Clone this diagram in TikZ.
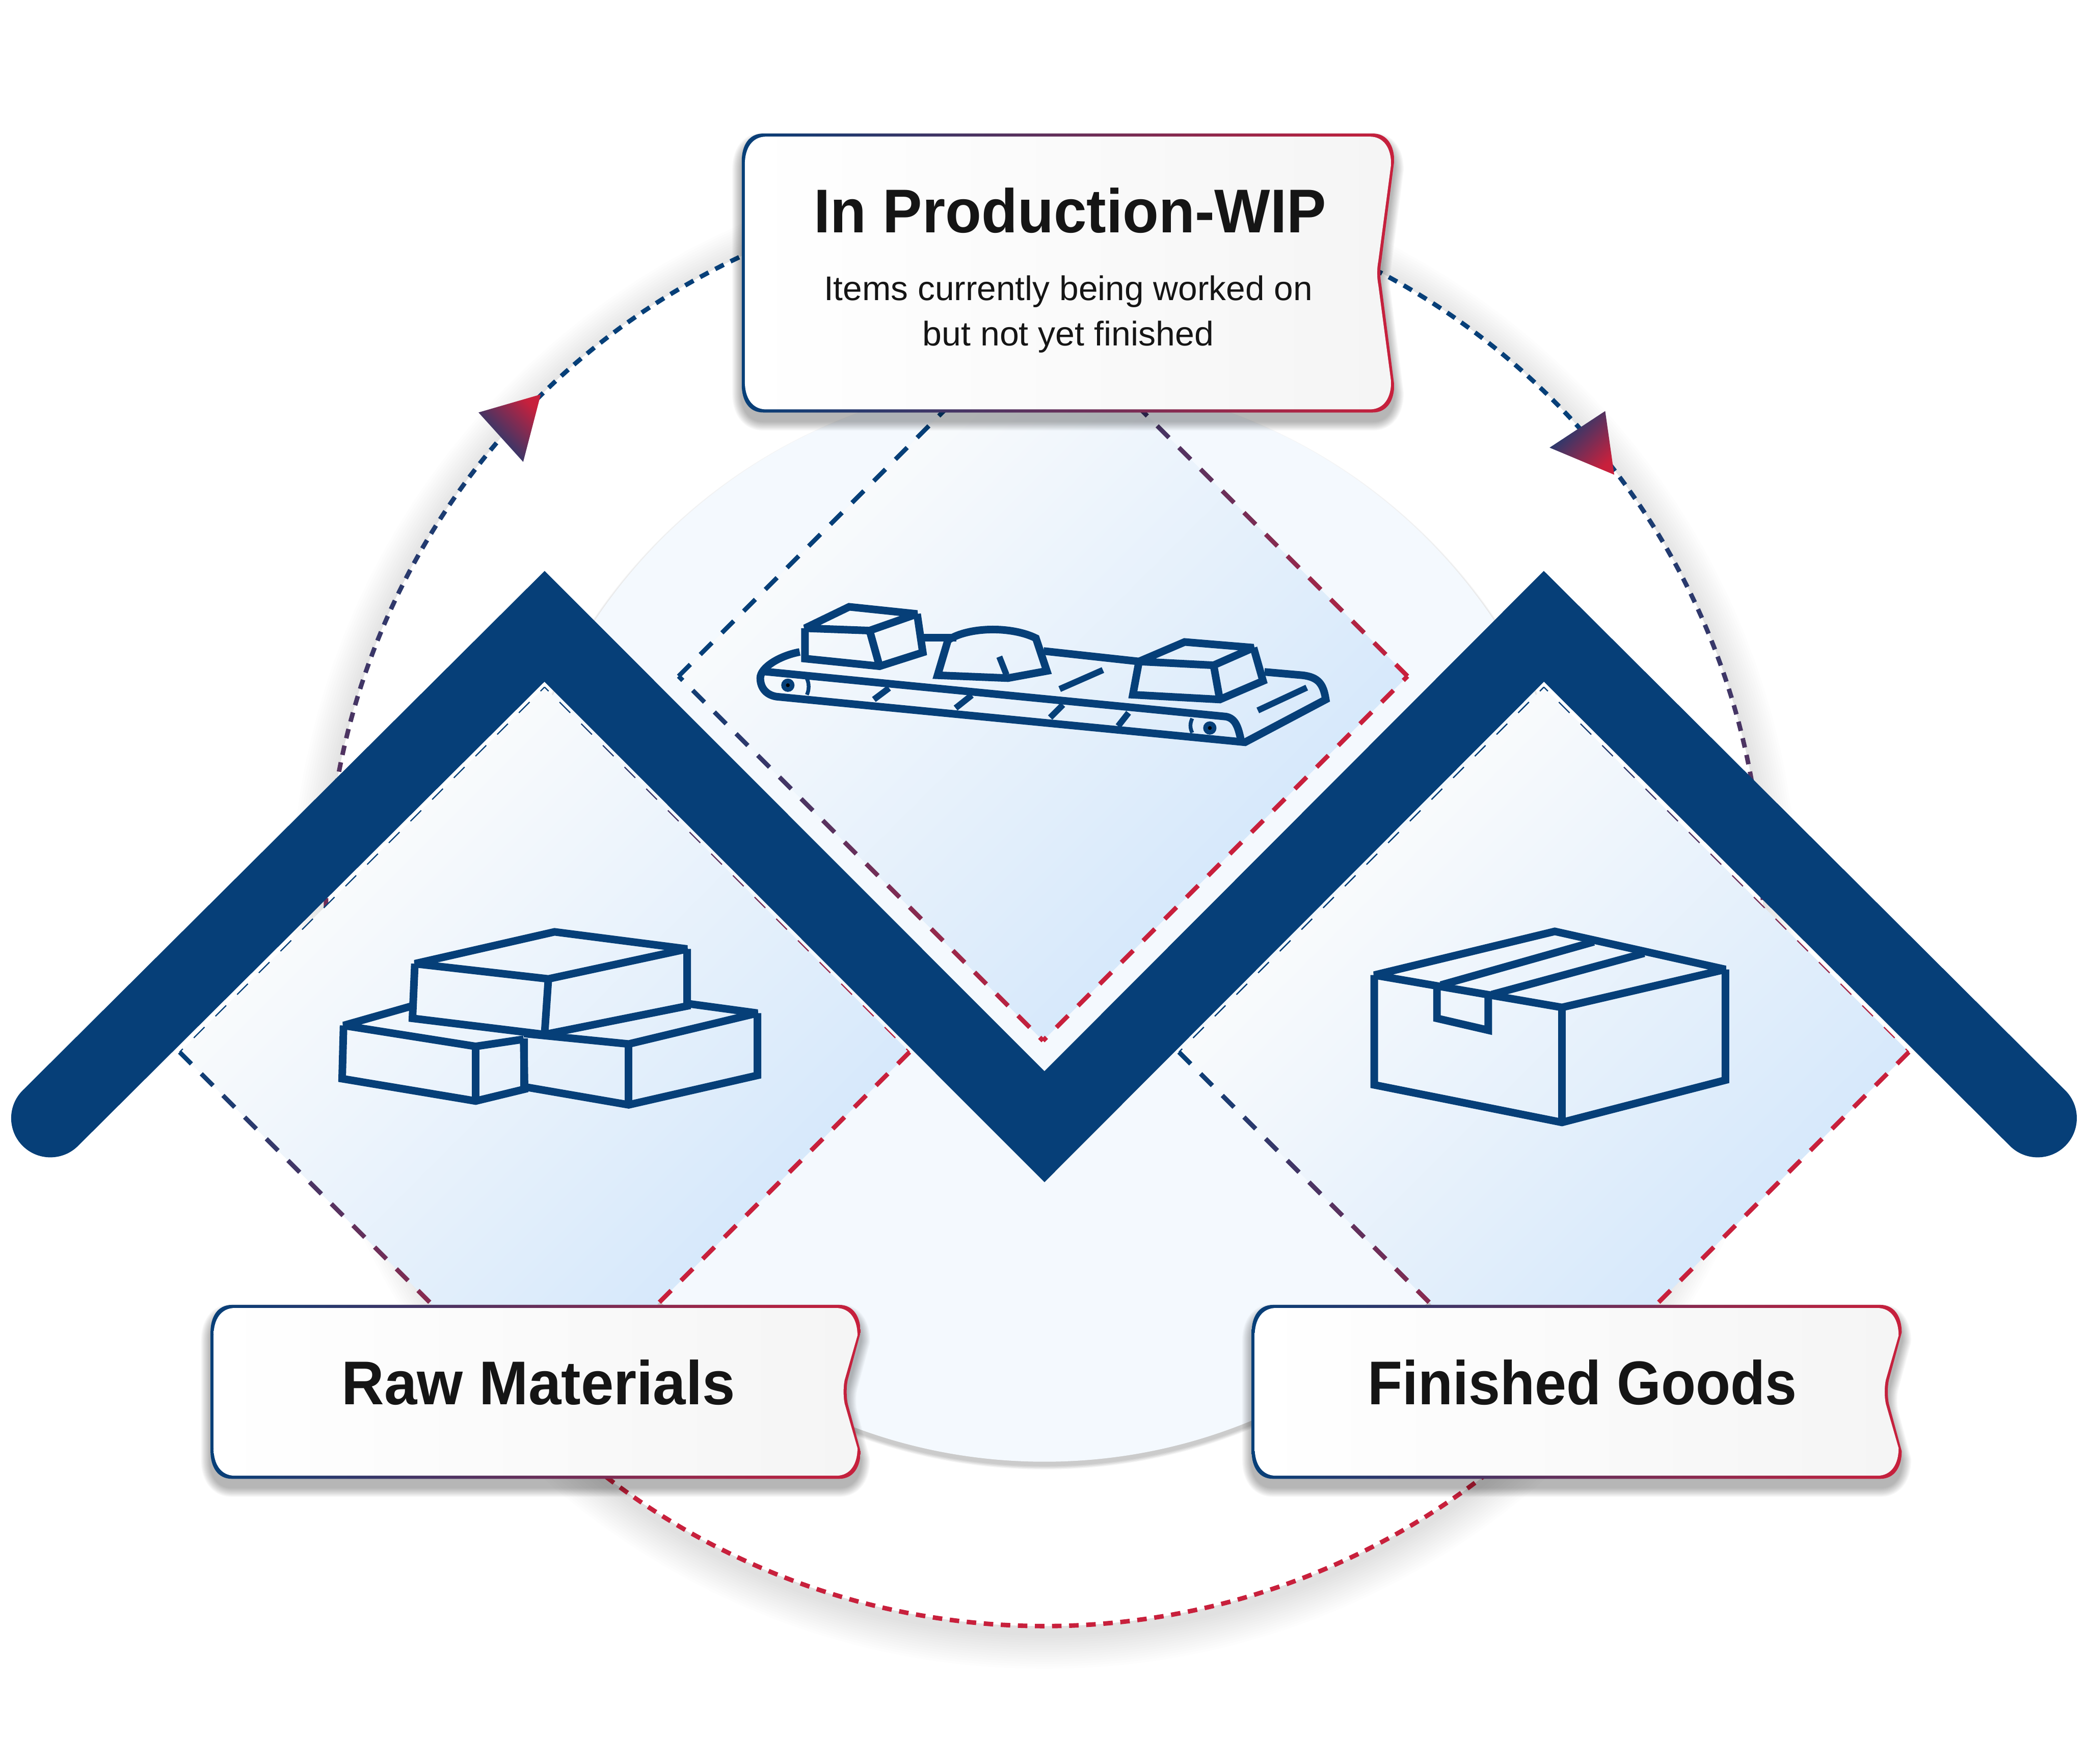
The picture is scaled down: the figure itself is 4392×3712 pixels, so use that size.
\documentclass[tikz,border=0pt]{standalone}
\usepackage{fontspec}
\usepackage{graphicx}
\setmainfont{Liberation Sans}
\definecolor{brandblue}{RGB}{6,63,120}
\definecolor{brandred}{RGB}{200,32,60}
\definecolor{lightdisc}{RGB}{244,249,254}
\definecolor{diaA}{RGB}{255,254,252}
\definecolor{diaB}{RGB}{208,229,251}
\definecolor{cardA}{RGB}{255,255,255}
\definecolor{cardB}{RGB}{245,245,245}
\definecolor{inktext}{RGB}{21,21,21}
\tikzset{
  iconline/.style={draw=brandblue,line width=16pt,line join=miter,miter limit=2.5,fill=none},
  iconthin/.style={draw=brandblue,line width=8pt,fill=none},
  iconbar/.style={draw=brandblue,line width=13pt,fill=none},
  mainzig/.style={draw=brandblue,line width=165pt,line join=miter,miter limit=10,line cap=round},
  diamondfill/.style={left color=diaA,right color=diaB,shading angle=45},
  bordergrad/.style={left color=brandblue,right color=brandred},
  cardfill/.style={left color=cardA,right color=cardB},
  arrowgrad/.style={left color=brandblue,middle color=brandred!35!brandblue,right color=brandred},
  titletext/.style={anchor=base,inner sep=0pt,text=inktext,font=\fontsize{130}{130}\selectfont\bfseries},
  subtext/.style={anchor=base,inner sep=0pt,text=inktext,font=\fontsize{72}{72}\selectfont},
}
% dashed line whose colour runs along x+y
\newcommand{\gradline}[9]{% x1 y1 x2 y2 dash period width s0 s1  (offset in \goff)
  \pgfmathsetmacro\glen{veclen(#3-#1,#4-#2)}
  \pgfmathtruncatemacro\gnum{floor((\glen+\goff)/#6)}
  \foreach \gi in {0,...,\gnum}{
    \pgfmathsetmacro\gsa{max(0,\gi*#6-\goff)}
    \pgfmathsetmacro\gsb{min(\glen,\gi*#6-\goff+#5)}
    \ifdim\gsb pt>\gsa pt
      \pgfmathsetmacro\gax{#1+(#3-#1)/\glen*\gsa}
      \pgfmathsetmacro\gay{#2+(#4-#2)/\glen*\gsa}
      \pgfmathsetmacro\gbx{#1+(#3-#1)/\glen*\gsb}
      \pgfmathsetmacro\gby{#2+(#4-#2)/\glen*\gsb}
      \pgfmathsetmacro\gt{max(0,min(100,(\gax+\gay-#8)/(#9-#8)*100))}
      \draw[line width=#7pt,color=brandred!\gt!brandblue] (\gax,\gay) -- (\gbx,\gby);
    \fi
  }
}
\def\goff{0}
% card outline
\newcommand{\cardshape}[5]{%
  ({#1+45},#2) -- ({#3-45},#2)
  .. controls ({#3-15},#2) and (#3,{#2+25}) .. (#3,{#2+58})
  -- ({#3-#5+3},{(#2+#4)/2-25})
  .. controls ({#3-#5},{(#2+#4)/2-10}) and ({#3-#5},{(#2+#4)/2+10}) .. ({#3-#5+3},{(#2+#4)/2+25})
  -- (#3,{#4-58})
  .. controls (#3,{#4-25}) and ({#3-15},#4) .. ({#3-45},#4)
  -- ({#1+45},#4)
  .. controls ({#1+15},#4) and (#1,{#4-25}) .. (#1,{#4-58})
  -- (#1,{#2+58})
  .. controls (#1,{#2+25}) and ({#1+15},#2) .. ({#1+45},#2) -- cycle}
\newcommand{\drawcard}[4]{%
  \foreach \k in {1,...,10}{
    \begin{scope}[yshift=-18pt,opacity=0.03,transparency group]
      \path[draw=black,fill=black,line width=4*\k pt,line join=round] \cardshape{#1}{#2}{#3}{#4}{30};
    \end{scope}
  }
  \shade[bordergrad] \cardshape{#1}{#2}{#3}{#4}{30};
  \shade[cardfill] \cardshape{#1+6.5}{#2+6.5}{#3-6.5}{#4-6.5}{30};
}
\begin{document}
\begin{tikzpicture}[x=1pt,y=-1pt]
\useasboundingbox (0,0) rectangle (4392,3712);
\fill[white] (0,0) rectangle (4392,3712);

% outer disc with soft shadow
\foreach \k in {1,...,15}{
  \fill[black,opacity=0.0085] (2198,1925) circle ({1512+5*\k});
}
\fill[white] (2198,1910) circle (1512);
% dotted ring
\foreach \k in {0,...,263}{
  \pgfmathsetmacro\aa{\k*1.363636}
  \pgfmathsetmacro\ab{\aa+0.76}
  \pgfmathsetmacro\ya{1910+1512*sin(\aa)}
  \pgfmathsetmacro\gt{max(0,min(100,(\ya-885)/1850*100))}
  \draw[line width=9.5pt,color=brandred!\gt!brandblue] ({2198+1512*cos(\aa)},\ya) -- ({2198+1512*cos(\ab)},{1910+1512*sin(\ab)});
}

% light disc
\foreach \k in {1,...,6}{
  \fill[black,opacity=0.035] (2198,1946) circle ({1138+1.4*\k});
}
\fill[lightdisc] (2198,1938) circle (1138);

% diamonds
\shade[diamondfill] (2195,656) -- (2962,1423) -- (2195,2190) -- (1428,1423) -- cycle;
\shade[diamondfill] (1146,1446) -- (1914,2214) -- (1146,2982) -- (378,2214) -- cycle;
\shade[diamondfill] (3249,1446) -- (4017,2214) -- (3249,2982) -- (2481,2214) -- cycle;

% centre diamond dashes
\def\goff{25}
\gradline{2195}{2190}{1428}{1423}{35}{64.5}{9.5}{2851}{4385}
\gradline{2195}{2190}{2962}{1423}{35}{64.5}{9.5}{2851}{4385}
\def\goff{0}
\gradline{1428}{1423}{2195}{656}{35}{64.5}{9.5}{2851}{4385}
\gradline{2962}{1423}{2195}{656}{35}{64.5}{9.5}{2851}{4385}
% left diamond dashes
\def\goff{20}
\gradline{1146}{1446}{378}{2214}{32}{64.5}{2.5}{2592}{4128}
\gradline{1146}{1446}{1914}{2214}{32}{64.5}{2.5}{2592}{4128}
\def\goff{0}
\gradline{378}{2214}{1146}{2982}{35}{64.5}{9.5}{2592}{4128}
\gradline{1914}{2214}{1146}{2982}{35}{64.5}{9.5}{2592}{4128}
% right diamond dashes
\def\goff{20}
\gradline{3249}{1446}{2481}{2214}{32}{64.5}{2.5}{4695}{6231}
\gradline{3249}{1446}{4017}{2214}{32}{64.5}{2.5}{4695}{6231}
\def\goff{0}
\gradline{2481}{2214}{3249}{2982}{35}{64.5}{9.5}{4695}{6231}
\gradline{4017}{2214}{3249}{2982}{35}{64.5}{9.5}{4695}{6231}

% raw materials boxes
\path[iconline] (873,2028) -- (1167,1961) -- (1446,1997) -- (1154,2060) -- cycle;
\path[iconline] (873,2028) -- (868,2143) -- (1146,2177) -- (1446,2117) -- (1446,1997);
\path[iconline] (1154,2060) -- (1146,2177);
\path[iconline] (867,2117) -- (723,2158) -- (1001,2202) -- (1102,2187);
\path[iconline] (723,2158) -- (720,2270) -- (1001,2317) -- (1104,2292) -- (1102,2187);
\path[iconline] (1001,2202) -- (1001,2317);
\path[iconline] (1103,2175) -- (1323,2197) -- (1594,2132) -- (1447,2112);
\path[iconline] (1594,2132) -- (1594,2263) -- (1323,2325) -- (1103,2287) -- (1103,2185);
\path[iconline] (1323,2197) -- (1323,2325);

% finished goods box
\path[iconline] (2892,2052) -- (3272,1960) -- (3631,2040) -- (3287,2120) -- cycle;
\path[iconline] (2892,2052) -- (2892,2283) -- (3287,2362) -- (3631,2273) -- (3631,2040);
\path[iconline] (3287,2120) -- (3287,2362);
\path[iconline] (3032,2073) -- (3354,1982);
\path[iconline] (3139,2093) -- (3460,2006);
\path[iconline] (3024,2080) -- (3024,2143) -- (3132,2168) -- (3132,2097);

% conveyor
\path[iconline] (1683,1372) .. controls (1640,1380) and (1600,1405) .. (1600,1427) .. controls (1600,1445) and (1610,1462) .. (1634,1466) -- (2620,1562) -- (2790,1472) .. controls (2785,1440) and (2775,1425) .. (2741,1421) -- (2661,1414);
\path[iconline] (1607,1413) -- (2580,1508) .. controls (2600,1512) and (2606,1530) .. (2612,1560);
\path[iconline] (1942,1342) -- (2013,1342);
\path[iconline] (2196,1370) -- (2397,1392);
\path[iconline] (1694,1322) -- (1787,1277) -- (1930,1292) -- (1830,1327) -- cycle;
\path[iconline] (1694,1322) -- (1694,1386) -- (1851,1402) -- (1942,1373) -- (1930,1292);
\path[iconline] (1830,1327) -- (1851,1402);
\path[iconline] (1973,1421) -- (1995,1347) .. controls (2040,1318) and (2130,1318) .. (2180,1343) -- (2203,1412) -- (2121,1427) -- cycle;
\path[iconbar] (2103,1382) -- (2118,1420);
\path[iconline] (2397,1392) -- (2493,1351) -- (2638,1363) -- (2554,1400) -- cycle;
\path[iconline] (2397,1392) -- (2384,1462) -- (2567,1472) -- (2658,1433) -- (2638,1363);
\path[iconline] (2554,1400) -- (2567,1472);
\path[iconbar] (1871,1448) -- (1839,1472);
\path[iconbar] (2045,1463) -- (2011,1490);
\path[iconbar] (2237,1483) -- (2210,1510);
\path[iconbar] (2375,1500) -- (2353,1528);
\path[iconbar] (2321,1410) -- (2230,1450);
\path[iconbar] (2750,1447) -- (2647,1495);
\fill[brandblue] (1658,1442) circle (14);
\fill[black] (1658,1442) circle (4);
\fill[brandblue] (2546,1532) circle (14);
\fill[black] (2546,1532) circle (4);
\path[iconthin] (1698,1428) .. controls (1703,1438) and (1703,1452) .. (1698,1462);
\path[iconthin] (2509,1512) .. controls (2504,1522) and (2504,1532) .. (2509,1542);

% zigzag
\coordinate (zA) at (106,2353);
\coordinate (zB) at (1146,1318);
\coordinate (zC) at (2198,2371);
\coordinate (zD) at (3249,1318);
\coordinate (zE) at (4288,2353);
\draw[mainzig] (zA) -- (zB) -- (zC) -- (zD) -- (zE);

% cards
\drawcard{1561}{281}{2934}{868}
\drawcard{443}{2746}{1811}{3112}
\drawcard{2634}{2746}{4002}{3112}

\node[titletext] (wiptitle) at (2252,490) {\resizebox{1078pt}{\height}{In Production-WIP}};
\node[subtext] (wipone) at (2248,632) {\resizebox{1028pt}{\height}{Items currently being worked on}};
\node[subtext] (wiptwo) at (2248,727) {\resizebox{613pt}{\height}{but not yet finished}};
\node[titletext] (rawtitle) at (1133,2956) {\resizebox{828pt}{\height}{Raw Materials}};
\node[titletext] (fintitle) at (3330,2956) {\resizebox{903pt}{\height}{Finished Goods}};

% arrowheads
\shade[arrowgrad,shading angle=135] (1007,868) -- (1138,830) -- (1101,972) -- cycle;
\shade[arrowgrad,shading angle=45] (3378,865) -- (3261,942) -- (3397,999) -- cycle;
\end{tikzpicture}
\end{document}
